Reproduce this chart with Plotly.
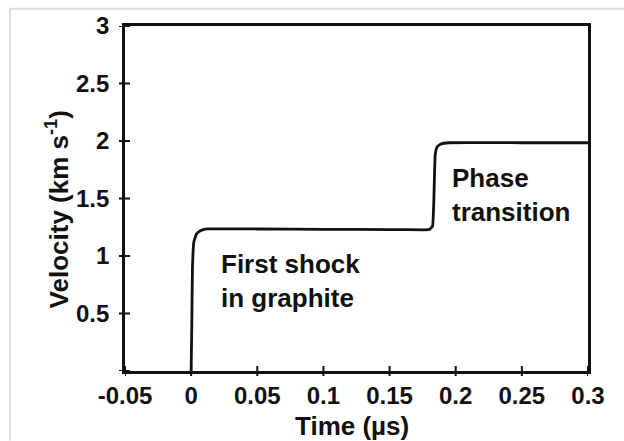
import plotly.graph_objects as go

# Data
time_us = [0.0, 0.0005, 0.001, 0.002, 0.004, 0.007, 0.012, 0.05, 0.1, 0.15, 0.176, 0.180,
           0.1825, 0.1835, 0.1845, 0.186, 0.189, 0.195, 0.25, 0.3]
velocity = [0.0, 0.4, 0.9, 1.12, 1.19, 1.22, 1.235, 1.235, 1.232, 1.23, 1.228, 1.23,
            1.26, 1.5, 1.88, 1.95, 1.975, 1.985, 1.985, 1.985]

x_ticks = [-0.05, 0, 0.05, 0.1, 0.15, 0.2, 0.25, 0.3]
x_tick_text = ["-0.05", "0", "0.05", "0.1", "0.15", "0.2", "0.25", "0.3"]
y_ticks = [0.5, 1, 1.5, 2, 2.5, 3]
y_tick_text = ["0.5", "1", "1.5", "2", "2.5", "3"]

FONT = "Liberation Sans, Arial, Helvetica, sans-serif"
INK = "#111111"

fig = go.Figure()
fig.add_trace(go.Scatter(x=time_us, y=velocity, mode="lines",
                         line=dict(color=INK, width=2.8, shape="spline", smoothing=0.3),
                         hoverinfo="skip", showlegend=False))

tickfont = dict(family=FONT, size=24, color=INK, weight="bold")
axis_common = dict(showgrid=False, zeroline=False, showline=True, linecolor=INK,
                   linewidth=2.8, ticks="", tickfont=tickfont)

fig.update_layout(
    width=624, height=441,
    margin=dict(l=125, r=36, t=23, b=70),
    paper_bgcolor="white", plot_bgcolor="white",
    xaxis=dict(range=[-0.05, 0.3], tickvals=x_ticks, ticktext=x_tick_text, mirror=True,
               ticklabelstandoff=1, **axis_common),
    yaxis=dict(range=[0, 3], tickvals=y_ticks, ticktext=y_tick_text, mirror=True,
               ticklabelstandoff=8, **axis_common),
    showlegend=False,
)

# cross-shaped tick marks (both sides of the axis line)
for xv in x_ticks:
    fig.add_shape(type="line", xref="x", yref="paper", ysizemode="pixel", yanchor=0,
                  x0=xv, x1=xv, y0=-5, y1=5, line=dict(color=INK, width=2))
for yv in [0] + y_ticks:
    fig.add_shape(type="line", yref="y", xref="paper", xsizemode="pixel", xanchor=0,
                  y0=yv, y1=yv, x0=-6, x1=5, line=dict(color=INK, width=2))

txt = dict(family=FONT, size=26, color=INK, weight="bold")
annotations = [
    dict(x=0.021, y=1.08, xref="x", yref="y", text="First shock<br>in graphite",
         showarrow=False, xanchor="left", yanchor="top", align="left", font=txt),
    dict(x=0.196, y=1.83, xref="x", yref="y", text="Phase<br>transition",
         showarrow=False, xanchor="left", yanchor="top", align="left", font=txt),
    dict(x=(352 - 125) / 463, y=(371 - 426) / 348, xref="paper", yref="paper",
         text="Time (µs)", showarrow=False, xanchor="center", yanchor="middle",
         font=txt),
    dict(x=-(125 - 57) / 463, y=(371 - 208) / 348, xref="paper", yref="paper",
         text="Velocity (km s<sup>-1</sup>)", textangle=-90,
         showarrow=False, xanchor="center", yanchor="middle", font=txt),
]
fig.update_layout(annotations=annotations)

# light gray frame lines of the original picture
fig.add_shape(type="line", xref="paper", yref="paper", x0=(10 - 125) / 463, x1=(624 - 125) / 463,
              y0=(371 - 5.5) / 348, y1=(371 - 5.5) / 348, line=dict(color="#dddddd", width=2))
fig.add_shape(type="line", xref="paper", yref="paper", x0=(10 - 125) / 463, x1=(10 - 125) / 463,
              y0=(371 - 5.5) / 348, y1=(371 - 441) / 348, line=dict(color="#dddddd", width=2))

fig.write_html("out.html")
